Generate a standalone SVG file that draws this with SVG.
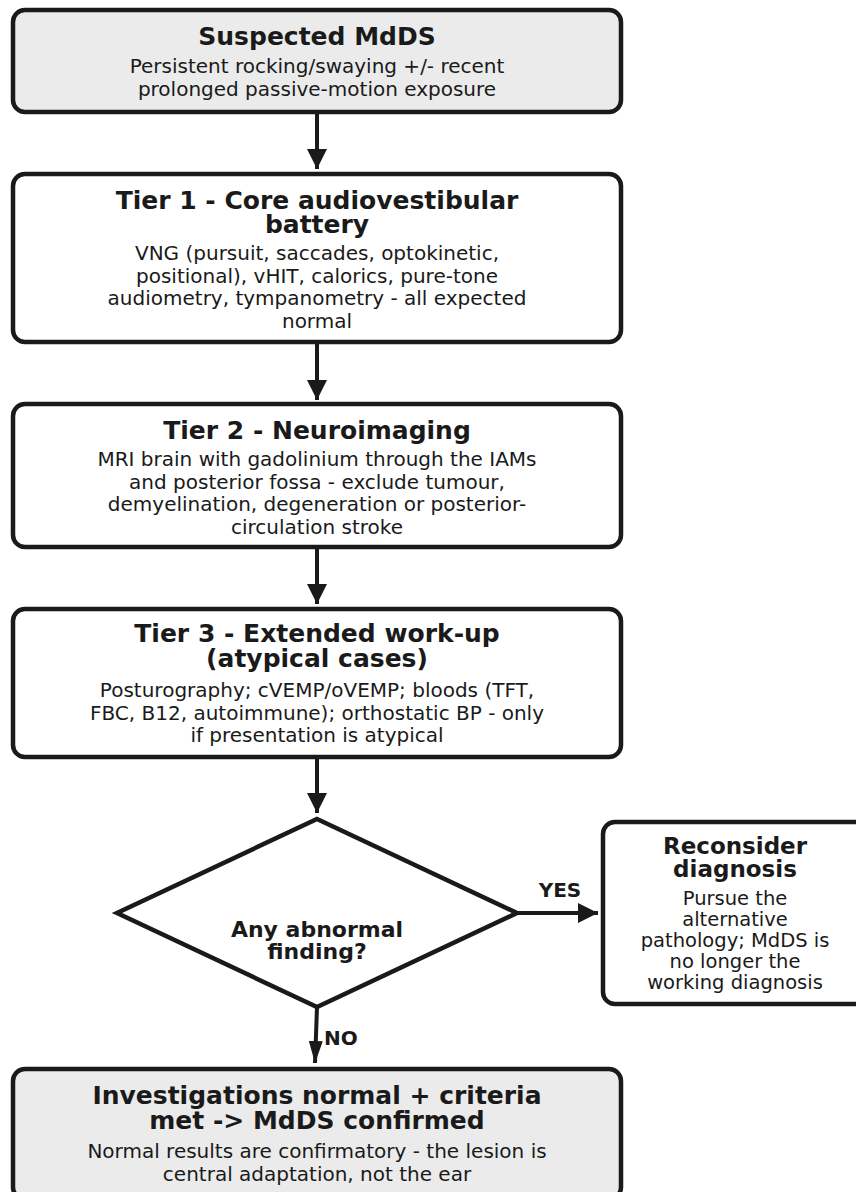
<svg xmlns="http://www.w3.org/2000/svg" width="856" height="1192" viewBox="0 0 856 1192">
<style>
.box{fill:#ffffff;stroke:#1a1a1a;stroke-width:4.5}
.grey{fill:#ebebeb}
.t{font-family:"DejaVu Sans",sans-serif;font-weight:bold;font-size:25px;fill:#1a1a1a;text-anchor:middle}
.b{font-family:"DejaVu Sans",sans-serif;font-size:20px;fill:#1a1a1a;text-anchor:middle}
.c{stroke:#1a1a1a;stroke-width:4;fill:none}
.lbl{font-family:"DejaVu Sans",sans-serif;font-weight:bold;font-size:20px;fill:#1a1a1a}
</style>
<defs>
<marker id="ah" markerUnits="userSpaceOnUse" markerWidth="22" markerHeight="22" refX="20" refY="10" orient="auto">
<path d="M0,0 L20,10 L0,20 Z" fill="#1a1a1a"/>
</marker>
<marker id="ahn" markerUnits="userSpaceOnUse" markerWidth="24" markerHeight="16" refX="22" refY="7" orient="auto">
<path d="M0,0 L22,7 L0,14 Z" fill="#1a1a1a"/>
</marker>
</defs>
<rect width="856" height="1192" fill="#ffffff"/>
<g id="connectors">
<line class="c" x1="317" y1="112" x2="317" y2="169" marker-end="url(#ah)"/>
<line class="c" x1="317" y1="342" x2="317" y2="400" marker-end="url(#ah)"/>
<line class="c" x1="317" y1="547" x2="317" y2="604" marker-end="url(#ah)"/>
<line class="c" x1="317" y1="757" x2="317" y2="813" marker-end="url(#ah)"/>
<line class="c" x1="517" y1="913" x2="598" y2="913" marker-end="url(#ah)"/>
<text class="lbl" x="560" y="897" text-anchor="middle">YES</text>
<line class="c" x1="317" y1="1007" x2="315" y2="1063" marker-end="url(#ahn)"/>
<text class="lbl" x="324" y="1045">NO</text>
</g>
<g id="n1">
<rect class="box grey" x="13" y="10" width="608" height="102" rx="12"/>
<text class="t" x="317" y="45">Suspected MdDS</text>
<text class="b" x="317" y="73">Persistent rocking/swaying +/- recent</text>
<text class="b" x="317" y="96">prolonged passive-motion exposure</text>
</g>
<g id="n2">
<rect class="box" x="13" y="174" width="608" height="168" rx="12"/>
<text class="t" x="317" y="209">Tier 1 - Core audiovestibular</text>
<text class="t" x="317" y="233">battery</text>
<text class="b" x="317" y="260">VNG (pursuit, saccades, optokinetic,</text>
<text class="b" x="317" y="282.5">positional), vHIT, calorics, pure-tone</text>
<text class="b" x="317" y="305">audiometry, tympanometry - all expected</text>
<text class="b" x="317" y="327.5">normal</text>
</g>
<g id="n3">
<rect class="box" x="13" y="404" width="608" height="143" rx="12"/>
<text class="t" x="317" y="439">Tier 2 - Neuroimaging</text>
<text class="b" x="317" y="466">MRI brain with gadolinium through the IAMs</text>
<text class="b" x="317" y="488.5">and posterior fossa - exclude tumour,</text>
<text class="b" x="317" y="511">demyelination, degeneration or posterior-</text>
<text class="b" x="317" y="533.5">circulation stroke</text>
</g>
<g id="n4">
<rect class="box" x="13" y="609" width="608" height="148" rx="12"/>
<text class="t" x="317" y="642">Tier 3 - Extended work-up</text>
<text class="t" x="317" y="667">(atypical cases)</text>
<text class="b" x="317" y="697">Posturography; cVEMP/oVEMP; bloods (TFT,</text>
<text class="b" x="317" y="719.5">FBC, B12, autoimmune); orthostatic BP - only</text>
<text class="b" x="317" y="742">if presentation is atypical</text>
</g>
<g id="decision">
<polygon points="317,819 517,913 317,1007 117,913" fill="#ffffff" stroke="#1a1a1a" stroke-width="4.5" stroke-linejoin="miter"/>
<text class="t" x="317" y="937" style="font-size:22px">Any abnormal</text>
<text class="t" x="317" y="959" style="font-size:22px">finding?</text>
</g>
<g id="reconsider">
<rect class="box" x="603" y="822" width="264" height="182" rx="12"/>
<text class="t" x="735" y="854" style="font-size:23px">Reconsider</text>
<text class="t" x="735" y="877" style="font-size:23px">diagnosis</text>
<text class="b" x="735" y="905" style="font-size:19.5px">Pursue the</text>
<text class="b" x="735" y="926" style="font-size:19.5px">alternative</text>
<text class="b" x="735" y="947" style="font-size:19.5px">pathology; MdDS is</text>
<text class="b" x="735" y="968" style="font-size:19.5px">no longer the</text>
<text class="b" x="735" y="989" style="font-size:19.5px">working diagnosis</text>
</g>
<g id="confirmed">
<rect class="box grey" x="13" y="1069" width="608" height="130" rx="12"/>
<text class="t" x="317" y="1104">Investigations normal + criteria</text>
<text class="t" x="317" y="1129">met -&gt; MdDS confirmed</text>
<text class="b" x="317" y="1158">Normal results are confirmatory - the lesion is</text>
<text class="b" x="317" y="1181">central adaptation, not the ear</text>
</g>
</svg>
